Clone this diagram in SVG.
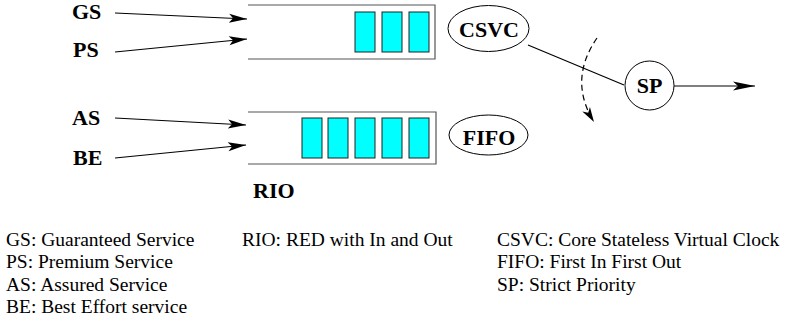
<svg xmlns="http://www.w3.org/2000/svg" width="788" height="327" viewBox="0 0 788 327">
<defs>
<marker id="ah" markerUnits="userSpaceOnUse" markerWidth="24" markerHeight="12" viewBox="-20 -6 22 12" refX="0" refY="0" orient="auto">
<path d="M0,0 L-18,-4.5 L-14,0 L-18,4.5 Z" fill="#000"/>
</marker>
<marker id="ah2" markerUnits="userSpaceOnUse" markerWidth="26" markerHeight="12" viewBox="-24 -6 26 12" refX="0" refY="0" orient="auto">
<path d="M0,0 L-22,-4.5 L-17,0 L-22,4.5 Z" fill="#000"/>
</marker>
<marker id="ah3" markerUnits="userSpaceOnUse" markerWidth="20" markerHeight="12" viewBox="-18 -6 20 12" refX="0" refY="0" orient="auto">
<path d="M0,0 L-15,-4.5 L-11,0 L-15,4.5 Z" fill="#000"/>
</marker>
</defs>
<style>
.box{fill:none;stroke:#555;stroke-width:1.2}
.pkt{fill:#00ffff;stroke:#222;stroke-width:1}
.node{fill:#fff;stroke:#000;stroke-width:1}
.edge{fill:none;stroke:#000;stroke-width:1.2}
</style>
<rect width="788" height="327" fill="#fff"/>

<g id="label-GS"><text font-family="Liberation Serif" font-weight="bold" font-size="22" x="72" y="19">GS</text></g>
<g id="label-PS"><text font-family="Liberation Serif" font-weight="bold" font-size="22" x="73" y="57">PS</text></g>
<g id="label-AS"><text font-family="Liberation Serif" font-weight="bold" font-size="22" x="72" y="125">AS</text></g>
<g id="label-BE"><text font-family="Liberation Serif" font-weight="bold" font-size="22" x="73" y="165">BE</text></g>

<g id="queue-top">
<path class="box" d="M248,5 H435 V59 H248"/>
<rect class="pkt" x="355" y="12" width="20" height="40"/>
<rect class="pkt" x="382" y="12" width="20" height="40"/>
<rect class="pkt" x="409" y="12" width="20" height="40"/>
</g>

<g id="queue-rio">
<path class="box" d="M248,112 H436 V164 H248"/>
<rect class="pkt" x="302" y="118" width="20" height="40"/>
<rect class="pkt" x="328" y="118" width="20" height="40"/>
<rect class="pkt" x="355" y="118" width="20" height="40"/>
<rect class="pkt" x="382" y="118" width="20" height="40"/>
<rect class="pkt" x="409" y="118" width="20" height="40"/>
<text font-family="Liberation Serif" font-weight="bold" font-size="22" x="253" y="198">RIO</text>
</g>

<g id="node-CSVC">
<ellipse class="node" cx="488.5" cy="28.5" rx="40.5" ry="23"/>
<text font-family="Liberation Serif" font-weight="bold" font-size="22" x="489" y="37" text-anchor="middle">CSVC</text>
</g>

<g id="node-FIFO">
<ellipse class="node" cx="488.5" cy="135" rx="39.5" ry="20"/>
<text font-family="Liberation Serif" font-weight="bold" font-size="22" x="489" y="145" text-anchor="middle">FIFO</text>
</g>

<g id="node-SP">
<circle class="node" cx="649.5" cy="85.5" r="24.5"/>
<text font-family="Liberation Serif" font-weight="bold" font-size="22" x="649.5" y="93" text-anchor="middle">SP</text>
</g>

<g id="connectors">
<line class="edge" x1="115" y1="13" x2="247" y2="19" marker-end="url(#ah)"/>
<line class="edge" x1="115" y1="52" x2="247" y2="39" marker-end="url(#ah)"/>
<line class="edge" x1="115" y1="118" x2="246" y2="125" marker-end="url(#ah)"/>
<line class="edge" x1="115" y1="158" x2="246" y2="145" marker-end="url(#ah)"/>
<line class="edge" x1="528" y1="45" x2="624" y2="85"/>
<line class="edge" x1="674" y1="86" x2="755" y2="86" marker-end="url(#ah2)"/>
<path class="edge" d="M597,38 Q568,80 594,122" stroke-dasharray="6,4" marker-end="url(#ah3)"/>
</g>

<g id="legend">
<text font-family="Liberation Serif" font-size="19.5" x="6" y="246">GS: Guaranteed Service</text>
<text font-family="Liberation Serif" font-size="19.5" x="6" y="268">PS: Premium Service</text>
<text font-family="Liberation Serif" font-size="19.5" x="6" y="291">AS: Assured Service</text>
<text font-family="Liberation Serif" font-size="19.5" x="6" y="313">BE: Best Effort service</text>
<text font-family="Liberation Serif" font-size="19.5" x="242" y="246">RIO: RED with In and Out</text>
<text font-family="Liberation Serif" font-size="19.5" x="497" y="246">CSVC: Core Stateless Virtual Clock</text>
<text font-family="Liberation Serif" font-size="19.5" x="497" y="268">FIFO: First In First Out</text>
<text font-family="Liberation Serif" font-size="19.5" x="497" y="291">SP: Strict Priority</text>
</g>
</svg>
